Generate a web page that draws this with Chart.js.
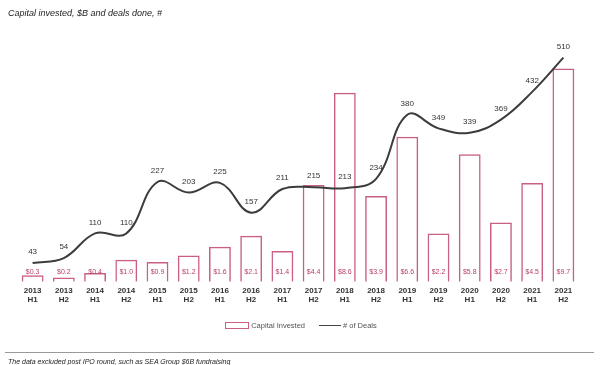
<!DOCTYPE html>
<html>
<head>
<meta charset="utf-8">
<script src="https://cdn.jsdelivr.net/npm/chart.js@4"></script>
<style>
  body { margin:0; background:#fff; font-family:"Liberation Sans", Arial, sans-serif; }
  #wrap { position:relative; width:602px; height:365px; overflow:hidden; }
  #c { position:absolute; left:0; top:0; }
  .title { position:absolute; left:8px; top:8px; font-size:9px; font-style:italic; color:#222; }
  .legend { position:absolute; left:0; width:602px; top:320px; text-align:center; font-size:7.5px; color:#555; }
  .legend span { display:inline-block; vertical-align:middle; }
  .lbox { width:22px; height:5px; border:1.2px solid #c9607f; margin-right:2px; }
  .lline { width:22px; height:0; border-top:1.5px solid #444; margin:0 2px 0 14px; }
  .rule { position:absolute; left:5px; right:8px; top:352px; border-top:1px solid #999; }
  .note { position:absolute; left:8px; top:358px; font-size:7px; font-style:italic; color:#222; }
</style>
</head>
<body>
<div id="wrap">
  <canvas id="c" width="602" height="365"></canvas>
  <div class="title">Capital invested, $B and deals done, #</div>
  <div class="legend"><span class="lbox"></span><span>Capital Invested</span><span class="lline"></span><span># of Deals</span></div>
  <div class="rule"></div>
  <div class="note">The data excluded post IPO round, such as SEA Group $6B fundraising</div>
</div>
<script>
var years = ['2013','2013','2014','2014','2015','2015','2016','2016','2017','2017','2018','2018','2019','2019','2020','2020','2021','2021'];
var halves = ['H1','H2','H1','H2','H1','H2','H1','H2','H1','H2','H1','H2','H1','H2','H1','H2','H1','H2'];
var capital = [0.3, 0.2, 0.4, 1.0, 0.9, 1.2, 1.6, 2.1, 1.4, 4.4, 8.6, 3.9, 6.6, 2.2, 5.8, 2.7, 4.5, 9.7];
var deals = [43, 54, 110, 110, 227, 203, 225, 157, 211, 215, 213, 234, 380, 349, 339, 369, 432, 510];

var labels = years.map(function(y, i){ return [y, halves[i]]; });

// values drawn as text on the bars and above the line
var valueLabels = {
    id: 'valueLabels',
    afterDatasetsDraw: function(chart) {
        var ctx = chart.ctx;
        ctx.save();
        ctx.textAlign = 'center';
        ctx.textBaseline = 'middle';
        var barMeta = chart.getDatasetMeta(0);
        ctx.font = '7px "Liberation Sans"';
        ctx.fillStyle = '#b8406a';
        barMeta.data.forEach(function(bar, i){
            ctx.fillText('$' + capital[i].toFixed(1), bar.x, bar.base - 10);
        });
        var lineMeta = chart.getDatasetMeta(1);
        ctx.font = '8px "Liberation Sans"';
        ctx.fillStyle = '#333';
        lineMeta.data.forEach(function(pt, i){
            ctx.fillText(deals[i], pt.x, pt.y - 11);
        });
        ctx.restore();
    }
};

var ctx = document.getElementById('c').getContext('2d');
var chart = new Chart(ctx, {
    type: 'bar',
    data: {
        labels: labels,
        datasets: [{
            label: 'Capital Invested',
            data: capital,
            yAxisID: 'y',
            backgroundColor: 'rgba(255,255,255,0)',
            borderColor: '#c9607f',
            borderWidth: 1.5,
            barPercentage: 0.7,
            categoryPercentage: 1,
            order: 2
        }, {
            type: 'line',
            label: '# of Deals',
            data: deals,
            yAxisID: 'y1',
            borderColor: '#3c3c3c',
            borderWidth: 2,
            pointRadius: 0,
            tension: 0.4,
            fill: false,
            order: 1
        }]
    },
    options: {
        responsive: false,
        animation: false,
        layout: { padding: { left: 17, right: 23, top: 40, bottom: 56 } },
        plugins: {
            legend: { display: false },
            tooltip: { enabled: false }
        },
        scales: {
            x: {
                grid: { display: false, drawTicks: false },
                border: { display: false },
                ticks: {
                    autoSkip: false,
                    maxRotation: 0,
                    padding: 4,
                    color: '#333',
                    font: { family: 'Liberation Sans', size: 8, weight: 'bold' }
                }
            },
            y: { display: false, min: 0, max: 11 },
            y1: { display: false, min: 0, max: 550 }
        }
    },
    plugins: [valueLabels]
});
</script>
</body>
</html>
